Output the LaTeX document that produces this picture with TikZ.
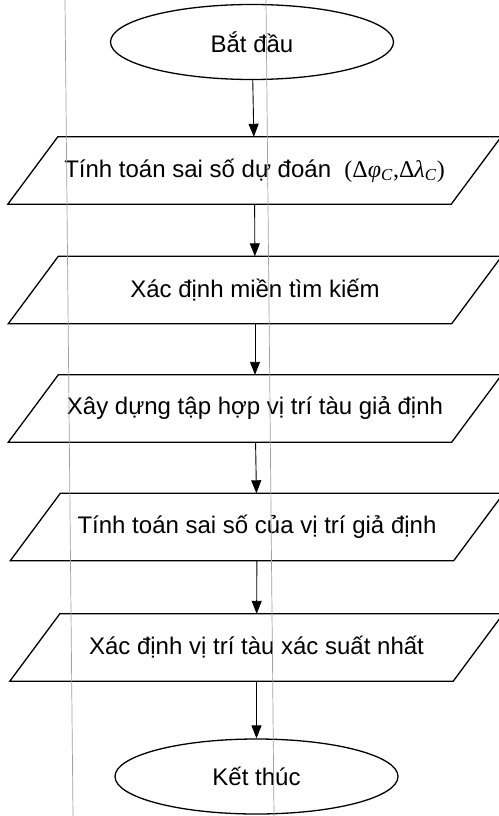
\documentclass[tikz,border=0pt]{standalone}
\usepackage{fontspec}
\setmainfont{Liberation Sans}
\newfontfamily\serifgreek{Liberation Serif}
\usetikzlibrary{shapes.geometric,arrows.meta}

\begin{document}
\begin{tikzpicture}[x=1pt,y=-1pt,
  every node/.style={font=\fontsize{24}{28}\selectfont},
  terminal/.style={ellipse,draw,line width=1.3pt,inner sep=0pt,
    minimum width=283pt,minimum height=75pt},
  % text body of a data box; the slanted outline is drawn below
  iobox/.style={rectangle,inner sep=0pt,
    minimum width=393pt,minimum height=67pt},
  outline/.style={line width=1.3pt,line join=miter},
  flow/.style={line width=0.9pt,-{Triangle[length=13pt,width=10pt]}},
  guide/.style={gray!75,line width=0.7pt}]
\useasboundingbox (0,0) rectangle (498,816);

% flowchart steps
\node[terminal] (start) at (252,42) {Bắt đầu};
\node[iobox] (s1) at (254.5,170.5)
  {\raisebox{-3pt}{Tính toán sai số dự đoán~~{\serifgreek(Δ\textit{φ}\textsubscript{\textit{C}},Δ\textit{λ}\textsubscript{\textit{C}})}}};
\node[iobox] (s2) at (255,290) {Xác định miền tìm kiếm};
\node[iobox] (s3) at (255,408.5) {Xây dựng tập hợp vị trí tàu giả định};
\node[iobox] (s4) at (257,527) {Tính toán sai số của vị trí giả định};
\node[iobox] (s5) at (256.5,647.5) {Xác định vị trí tàu xác suất nhất};
\node[terminal] (stop) at (256.5,776.5) {Kết thúc};

% parallelogram outlines of the data boxes
\foreach \n in {s1,s2,s3,s4,s5}
  \draw[outline] ([xshift=-50pt]\n.south west) -- (\n.south east)
    -- ([xshift=50pt]\n.north east) -- (\n.north west) -- cycle;

% connectors
\draw[flow] (start) -- (s1);
\draw[flow] (s1) -- (s2);
\draw[flow] (s2) -- (s3);
\draw[flow] (s3) -- (s4);
\draw[flow] (s4) -- (s5);
\draw[flow] (s5) -- (stop);

% thin vertical rules across the page
\coordinate (ga) at (65,0);
\coordinate (gb) at (73,816);
\coordinate (gc) at (266,0);
\coordinate (gd) at (274,816);
\draw[guide] (ga) -- (gb);
\draw[guide] (gc) -- (gd);
\end{tikzpicture}
\end{document}
